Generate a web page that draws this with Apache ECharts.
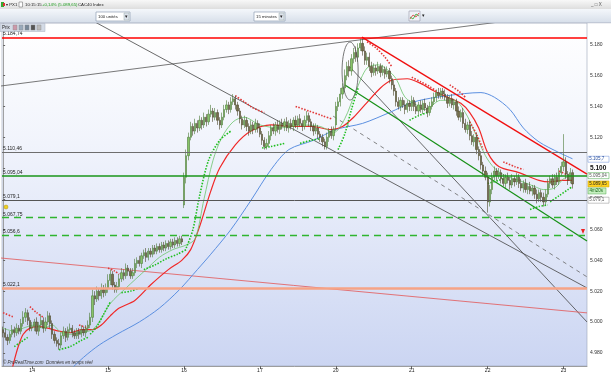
<!DOCTYPE html>
<html><head><meta charset="utf-8">
<script src="https://cdn.jsdelivr.net/npm/echarts@6/dist/echarts.min.js"></script>
<style>html,body{margin:0;padding:0;background:#fff}#c{width:611px;height:375px}</style>
</head><body><div id="c"></div>
<script>
// ---------- DATA ----------
const days = ['13','14','15','16','17','20','21','22','23'];
const barsPerDay = [13,34,34,34,34,34,34,34,5];
const totalSlots = 262;
const firstOpen = 4995;
const gapOpens = {81: 5076, 149: 5128};

const closeD13 = [4993,4990,4988,4992,4995,4993,4996,4994,4999,5003,5006,5001,4996];
const closeD14 = [4997,5000,4994,4998,5001,4996,5000,5004,4999,4992,4988,4986,4985,4991,4994,4990,4995,4996,4993,4991,4994,4992,4995,4993,4996,4998,5003,5017,5015,5020,5017,5021,5019,5022];
const closeD15 = [5027,5031,5024,5021,5023,5028,5032,5030,5035,5033,5030,5032,5038,5040,5038,5043,5045,5042,5046,5044,5048,5046,5049,5047,5050,5048,5051,5049,5052,5050,5053,5051,5054,5052];
const closeD16 = [5094,5108,5120,5127,5124,5129,5126,5131,5128,5133,5130,5135,5137,5133,5136,5131,5128,5133,5138,5141,5138,5143,5145,5141,5137,5132,5128,5131,5127,5124,5128,5125,5129,5126];
const closeD17 = [5122,5118,5114,5116,5121,5126,5124,5128,5125,5129,5127,5130,5126,5129,5127,5131,5128,5132,5129,5127,5131,5134,5130,5127,5124,5126,5122,5120,5117,5114,5120,5124,5121,5125];
const closeD20 = [5140,5143,5148,5152,5160,5166,5163,5171,5175,5172,5178,5181,5176,5170,5172,5166,5162,5165,5163,5166,5162,5164,5161,5163,5158,5154,5150,5143,5140,5144,5141,5138,5142,5140];
const closeD21 = [5144,5140,5137,5141,5138,5142,5139,5136,5140,5143,5146,5149,5147,5150,5148,5146,5142,5145,5141,5143,5137,5133,5136,5129,5125,5128,5121,5117,5120,5112,5108,5102,5098,5094];
const closeD22 = [5078,5086,5094,5098,5095,5097,5093,5090,5094,5092,5089,5093,5091,5094,5090,5087,5090,5086,5088,5085,5087,5083,5080,5084,5081,5078,5083,5090,5093,5089,5094,5091,5097,5101];
const closeD23 = [5104,5096,5092,5097,5089.65];

const wickHiD13 = [2,3,2,2,3,2,3,2,3,4,3,2,2];
const wickHiD14 = [3,2,3,2,4,2,3,3,2,2,2,2,3,2,3,2,2,3,2,2,2,2,3,2,2,3,3,4,3,3,2,4,3,3];
const wickHiD15 = [4,3,2,2,3,3,3,2,3,2,2,3,3,2,3,2,2,3,2,2,2,2,2,2,2,2,2,2,2,2,2,2,2,2];
const wickHiD16 = [3,4,3,3,2,3,2,3,2,3,2,3,4,2,3,2,2,3,3,3,2,3,3,2,2,2,2,3,2,2,3,2,3,2];
const wickHiD17 = [3,2,2,3,3,2,3,2,3,2,3,2,3,2,3,2,3,2,3,2,3,3,2,2,2,3,2,2,2,2,3,2,3,2];
const wickHiD20 = [3,3,4,3,4,3,4,3,3,4,3,3,3,3,3,3,3,3,2,3,2,3,2,3,2,2,3,2,3,2,2,3,2,2];
const wickHiD21 = [3,2,3,2,3,2,3,2,3,3,3,2,3,2,2,3,2,2,3,2,2,3,2,3,3,2,3,3,2,3,2,3,2,3];
const wickHiD22 = [3,3,3,3,2,3,2,3,2,3,2,3,2,3,2,3,2,3,2,3,2,2,3,2,2,3,3,3,2,3,2,3,3,3];
const wickHiD23 = [18,3,2,3,2];

const wickLoD13 = [3,2,3,2,2,3,2,2,2,2,3,3,2];
const wickLoD14 = [2,3,2,3,2,3,2,2,3,3,2,2,3,2,2,3,2,2,3,2,2,3,2,2,3,2,2,3,4,2,3,2,3,2];
const wickLoD15 = [3,3,3,2,2,2,2,3,2,3,2,2,2,3,2,3,2,3,2,2,2,2,2,2,2,2,2,2,2,2,2,2,2,2];
const wickLoD16 = [2,4,3,2,3,2,3,2,3,2,3,2,2,3,2,3,3,2,2,2,3,2,2,3,3,3,3,2,3,3,2,3,2,3];
const wickLoD17 = [2,3,2,2,2,3,2,3,2,3,2,3,2,3,2,3,2,3,2,3,2,2,3,3,3,2,3,3,3,2,2,3,2,3];
const wickLoD20 = [4,3,3,3,3,3,4,3,3,3,3,2,3,3,3,3,3,2,3,2,3,2,3,2,3,3,3,3,2,3,2,3,2,3];
const wickLoD21 = [3,3,2,3,2,3,2,3,2,2,2,3,2,2,3,2,3,2,2,3,3,2,3,3,2,3,3,2,3,3,3,3,3,2];
const wickLoD22 = [7,3,3,2,3,2,3,2,3,2,3,2,3,2,3,2,3,2,3,2,3,3,3,2,3,3,2,2,3,2,3,2,2,2];
const wickLoD23 = [3,3,3,2,3];

// indicator curves: [bar index, price]
const maRed = [[3,4963],[5,4975],[7,4985],[9,4992],[12,4996],[16,4997],[20,4996],[25,4994],[30,4993],[35,4995],[40,4995],[44,4998],[48,5004],[52,5009],[59,5014],[66,5024],[74,5034],[80,5040],[84,5047],[88,5062],[93,5085],[97,5100],[104,5115],[111,5124],[120,5128],[129,5127],[138,5127],[147,5125],[152,5127],[157,5133],[162,5141],[169,5152],[174,5157],[181,5158],[187,5155],[193,5150],[199,5146],[205,5142],[209,5136],[213,5126],[217,5110],[222,5101],[231,5097],[240,5092],[245,5091],[250,5092],[255,5092]];
const maBlue = [[28,4966],[36,4977],[43,4985],[51,4992],[61,5000],[70,5009],[79,5021],[87,5034],[93,5044],[102,5060],[111,5079],[120,5099],[128,5112],[139,5118],[149,5125],[161,5129],[173,5136],[184,5143],[199,5147],[214,5149],[220,5146],[227,5138],[233,5126],[240,5117],[249,5110],[255,5106]];
const maGreen = [[0,4996],[5,4994],[9,4996],[14,4998],[18,4996],[22,4998],[26,4993],[30,4992],[35,4993],[40,4995],[43,5000],[48,5012],[55,5022],[64,5034],[70,5042],[76,5047],[82,5050],[86,5054],[90,5080],[94,5105],[98,5120],[103,5130],[108,5133],[115,5128],[124,5126],[133,5128],[142,5127],[148,5123],[153,5132],[158,5150],[163,5165],[168,5167],[172,5164],[176,5158],[180,5146],[185,5141],[189,5138],[196,5144],[202,5144],[207,5136],[211,5124],[216,5108],[220,5100],[225,5095],[231,5092],[238,5088],[242,5086],[247,5087],[251,5093],[255,5095]];
const sarRed = [
  [[0,5006],[5,5003]],
  [[12,5010],[15,5006],[18,5003]],
  [[34,4998],[38,4996]],
  [[47,5035],[50,5033],[52,5031]],
  [[104,5147],[108,5143],[112,5139],[117,5136]],
  [[131,5140],[137,5137],[143,5134],[147,5132]],
  [[163,5182],[167,5178],[171,5172],[174,5166]],
  [[183,5159],[187,5156],[191,5153],[194,5150]],
  [[200,5154],[204,5150],[207,5146]],
  [[209,5130],[212,5122],[215,5112]],
  [[224,5104],[229,5101],[233,5099]],
  [[249,5098],[252,5096]]
];
const sarGreen = [
  [[5,4984],[8,4987],[11,4990]],
  [[25,4982],[30,4984],[35,4988],[38,4990]],
  [[39,4992],[42,4997],[45,5005],[48,5013]],
  [[53,5019],[57,5020],[61,5022]],
  [[63,5034],[68,5037],[73,5041],[78,5044],[82,5047]],
  [[82,5048],[85,5060],[88,5082],[92,5105],[97,5118],[102,5124]],
  [[116,5113],[120,5114],[126,5116]],
  [[133,5116],[138,5118],[142,5119]],
  [[150,5112],[153,5122],[156,5138],[159,5152]],
  [[182,5131],[186,5134],[190,5136]],
  [[217,5090],[222,5092],[226,5094]],
  [[236,5073],[240,5075],[244,5076]],
  [[245,5078],[249,5082],[253,5086],[255,5088]]
];
// drawn trend lines: [bar index, price]
const trendBlackDown1 = [[41.2,5194.8],[261.5,5022.1]];
const trendBlackDown2 = [[155.4,5165.5],[261.5,5000]];
const trendGrayDashed = [[147.8,5133.7],[261.5,5029.3]];
const trendGreen = [[153.1,5153.9],[261.5,5052.6]];
const trendRed = [[160.7,5185],[261.5,5096]];
const trendRedLong = [[-1.4,5041.6],[261.5,5005.9]];
const trendBlackUp = [[-1.4,5153.2],[261.5,5202.2]];
const ellipse = [155.4,5163,3.6,18.8];
// horizontal levels
const levelValues = [5184.74,5110.46,5095.04,5079.1,5067.75,5056.6,5022.1];
const levelLabels = ['5.184,74','5.110,46','5.095,04','5.079,1','5.067,75','5.056,6','5.022,1'];
const yTicks = [4980,5000,5020,5040,5060,5080,5100,5120,5140,5160,5180];
const boxValues = [5105.7,5095.04,5089.65,5079.1];
const boxLabels = ['5.105,7','5.095,04','5.089,65','5.079,1'];
const timerLabel = '4m20s';

// ---------- BUILD ----------
const closes = [].concat(closeD13,closeD14,closeD15,closeD16,closeD17,closeD20,closeD21,closeD22,closeD23);
const wickHi = [].concat(wickHiD13,wickHiD14,wickHiD15,wickHiD16,wickHiD17,wickHiD20,wickHiD21,wickHiD22,wickHiD23);
const wickLo = [].concat(wickLoD13,wickLoD14,wickLoD15,wickLoD16,wickLoD17,wickLoD20,wickLoD21,wickLoD22,wickLoD23);
const opens = closes.map((c,i)=> i===0 ? firstOpen : (gapOpens[i]!==undefined ? gapOpens[i] : closes[i-1]));
const candles = closes.map((c,i)=>{const o=opens[i];return [o,c,Math.min(o,c)-wickLo[i],Math.max(o,c)+wickHi[i]];});

const cats=[]; const dayStart=new Set();
days.forEach((d,k)=>{const n=barsPerDay[k];const s=k===0?14*60+15:9*60;
  for(let j=0;j<n;j++){ if(j===0&&k>0) dayStart.add(cats.length);
    const m=s+15*j; cats.push(d+' '+String(Math.floor(m/60)).padStart(2,'0')+':'+String(m%60).padStart(2,'0'));}});
while(cats.length<totalSlots) cats.push('');

const FONT='Liberation Sans';
const chart = echarts.init(document.getElementById('c'),null,{renderer:'canvas'});

function lineSeries(data,color,width,type,smooth){
  return {type:'line',xAxisIndex:1,yAxisIndex:0,data:data,showSymbol:false,symbol:'none',smooth:smooth||0,
    lineStyle:{color:color,width:width,type:type||'solid'},silent:true,z:3};
}
const levelStyles=[{color:'#ff0000',width:1.5,type:'solid'},{color:'#6e6e6e',width:1,type:'solid'},{color:'#1a961a',width:1.5,type:'solid'},{color:'#555555',width:1,type:'solid'},{color:'#2fb52f',width:1.3,type:[7,5]},{color:'#2fb52f',width:1.3,type:[7,5]},{color:'#f6a386',width:2.5,type:'solid'}];
const series=[];
series.push({type:'candlestick',xAxisIndex:0,yAxisIndex:0,data:candles,barWidth:'78%',z:4,
  itemStyle:{color:'#88c468',color0:'#76704a',borderColor:'#4c7a38',borderColor0:'#4a4428',borderWidth:0.6},
  markLine:{silent:true,symbol:['none','none'],animation:false,
    label:{position:'insideStartTop',fontSize:5,color:'#222',fontFamily:FONT,distance:[1,1]},
    data:levelValues.map((v,k)=>({yAxis:v,label:{formatter:levelLabels[k]},lineStyle:levelStyles[k]}))}});
series.push(lineSeries(trendBlackUp,'#555',0.8));
series.push(lineSeries(trendBlackDown1,'#444',0.8));
series.push(lineSeries(trendBlackDown2,'#444',0.8));
series.push(lineSeries(trendGrayDashed,'#666',0.8,[4,4]));
series.push(lineSeries(trendRedLong,'#e35656',0.8));
series.push(lineSeries(maBlue,'#5b8fe0',1,'solid',0.3));
series.push(lineSeries(maRed,'#f02828',1.2,'solid',0.3));
series.push(lineSeries(maGreen,'#6cc46c',0.8,'solid',0.3));
series.push(lineSeries(trendGreen,'#169016',1.2));
series.push(lineSeries(trendRed,'#f01010',1.3));
sarRed.forEach(seg=>series.push(lineSeries(seg,'#e23a3a',1.6,[1.5,1.5],0.3)));
sarGreen.forEach(seg=>series.push(lineSeries(seg,'#1fbf1f',1.6,[1.5,1.5],0.3)));
series.push({type:'custom',xAxisIndex:1,yAxisIndex:0,data:[ellipse],silent:true,z:5,
  renderItem:(params,api)=>{const c=api.coord([api.value(0),api.value(1)]);const s=api.size([api.value(2),api.value(3)]);
    const pts=[];for(let k=0;k<=60;k++){const a=k/60*Math.PI*2;pts.push([c[0]+s[0]*Math.cos(a),c[1]+s[1]*Math.sin(a)]);}
    return {type:'polyline',shape:{points:pts},style:{fill:null,stroke:'#555',lineWidth:0.8}};}});

const gx=2, gTop=23, gRight=24, gBottom=9;
chart.setOption({
  animation:false,
  backgroundColor:'#ffffff',
  textStyle:{fontFamily:FONT},
  grid:{left:gx,right:gRight,top:gTop,bottom:gBottom,show:true,borderColor:'#9aa6b8',borderWidth:0.6,
    backgroundColor:new echarts.graphic.LinearGradient(0,0,0,1,[{offset:0,color:'#ffffff'},{offset:0.35,color:'#f1f4fc'},{offset:1,color:'#cbd5f2'}])},
  xAxis:[
    {type:'category',data:cats,boundaryGap:true,axisLine:{lineStyle:{color:'#8a8a8a',width:0.8}},
      axisTick:{show:true,interval:(i)=>dayStart.has(i),alignWithLabel:true,length:3,lineStyle:{color:'#666'}},
      axisLabel:{interval:(i)=>dayStart.has(i),formatter:(v)=>v.split(' ')[0],fontSize:5,color:'#222',margin:2},
      splitLine:{show:false}},
    {type:'value',min:-0.5,max:totalSlots-0.5,show:false}
  ],
  yAxis:{type:'value',position:'right',min:4971.4,max:5194.2,scale:true,
    axisLine:{show:true,lineStyle:{color:'#8a8a8a',width:0.8}},
    axisTick:{show:true,customValues:yTicks,length:2,lineStyle:{color:'#666'}},
    axisLabel:{customValues:yTicks,fontSize:5,color:'#333',margin:3,
      formatter:(v)=>{const r=Math.round(v);const s=String(r);const t=s[0]+'.'+s.slice(1);return r===5100?'{b|'+t+'}':t;},
      rich:{b:{fontWeight:'bold',fontSize:6.5,color:'#111'}}},
    splitLine:{show:false}},
  series:series
});

// ---------- chrome & side boxes ----------
const yPix=v=>chart.convertToPixel({yAxisIndex:0},v);
const g=[];
const T=(x,y,t,o,z)=>({type:'text',x:x,y:y,z:z||100,style:Object.assign({text:t,fontSize:4.5,fill:'#222',fontFamily:FONT,verticalAlign:'middle'},o||{})});
// title bar
g.push({type:'rect',shape:{x:0,y:0,width:611,height:9},z:99,style:{fill:new echarts.graphic.LinearGradient(0,0,0,1,[{offset:0,color:'#f8f8f8'},{offset:1,color:'#dedede'}])}});
g.push({type:'rect',shape:{x:1,y:2,width:3,height:5},z:100,style:{fill:'#3a3'}});
g.push({type:'rect',shape:{x:3,y:3,width:2,height:3},z:100,style:{fill:'#d33'}});
g.push(T(6,4.7,'▾ PX1',{fontSize:4.3}));
g.push({type:'rect',shape:{x:19,y:2,width:3.5,height:5},z:100,style:{fill:'#fff',stroke:'#777',lineWidth:0.6}});
g.push(T(25,4.7,'10:15:15',{fontSize:4.3}));
g.push(T(42,4.7,'+0,14% (5.089,65)',{fill:'#1a9a1a',fontSize:4.3}));
g.push(T(78,4.7,'CAC40 Index',{fontSize:4.3}));
g.push(T(591,4.7,'_ □ X',{fill:'#555'}));
// toolbar
g.push({type:'rect',shape:{x:0,y:9,width:611,height:14},z:99,style:{fill:new echarts.graphic.LinearGradient(0,0,0,1,[{offset:0,color:'#f4f7fb'},{offset:1,color:'#d6dee9'}])}});
[[96,34,'100 unités'],[254,31,'15 minutes']].forEach(d=>{
  g.push({type:'rect',shape:{x:d[0],y:12,width:d[1],height:9},z:100,style:{fill:'#fff',stroke:'#8090a8',lineWidth:0.6}});
  g.push(T(d[0]+2,16.6,d[2],{fontSize:4.3}));
  g.push({type:'rect',shape:{x:d[0]+d[1]-6,y:13,width:5,height:7},z:101,style:{fill:'#dde3ec',stroke:'#9aa',lineWidth:0.5}});
  g.push(T(d[0]+d[1]-5.3,16.6,'▾',{fontSize:4.5},102));
});
g.push({type:'rect',shape:{x:409,y:11,width:11,height:10},z:100,style:{fill:'#f0f2f8',stroke:'#99a',lineWidth:0.6}});
g.push({type:'polyline',shape:{points:[[410,19],[413,15],[416,17],[419,13]]},z:101,style:{stroke:'#d33',lineWidth:0.8,fill:null}});
g.push({type:'polyline',shape:{points:[[410,17],[413,19],[416,14],[419,16]]},z:101,style:{stroke:'#3a3',lineWidth:0.8,fill:null}});
g.push(T(421.5,16.2,'▾',{fontSize:4.5}));
g.push({type:'line',shape:{x1:0,y1:22.8,x2:611,y2:22.8},z:100,style:{stroke:'#a4adbd',lineWidth:0.6}});
// Prix bar
g.push({type:'rect',shape:{x:0,y:23.5,width:45,height:8},z:100,style:{fill:'#d4dbe6',stroke:'#a8b0c0',lineWidth:0.5}});
g.push(T(2,27.6,'Prix',{fontSize:4.5},101));
[13,19,25,31,37].forEach((x,k)=>g.push({type:'rect',shape:{x:x,y:25,width:4,height:5},z:101,style:{fill:['#c9a','#9ab','#789','#555','#bbb'][k],stroke:'#888',lineWidth:0.4}}));
// watermark
g.push(T(3,363,'© ProRealTime.com  Données en temps réel',{fontSize:4.5,fontStyle:'italic',fill:'#333'}));
// bell and arrow icons
g.push({type:'circle',shape:{cx:6,cy:207,r:2},z:100,style:{fill:'#f0d020',stroke:'#a08000',lineWidth:0.4}});
g.push({type:'polygon',shape:{points:[[581,229],[585,229],[583,234]]},z:100,style:{fill:'#e22'}});
// side boxes
const boxStyles=[{stroke:'#6b8fd8',fill:'#fff',text:'#2a50a0'},{stroke:'#3aa03a',fill:'#fff',text:'#555'},{stroke:'#c8a000',fill:'#ffd21f',text:'#222'},{stroke:'#888',fill:'#fff',text:'#555'}];
boxValues.forEach((v,k)=>{const y=yPix(v);const st=boxStyles[k];
  g.push({type:'rect',shape:{x:588,y:y-3,width:21,height:6},z:102,style:{fill:st.fill,stroke:st.stroke,lineWidth:0.5}});
  g.push(T(589.3,y,boxLabels[k],{fill:st.text,fontSize:4.5},104));
});
{const y=yPix(boxValues[2])+7;
  g.push({type:'rect',shape:{x:588,y:y-3,width:18,height:6},z:102,style:{fill:'#c6efc0',stroke:'#5a5',lineWidth:0.5}});
  g.push(T(589.5,y,timerLabel,{fill:'#1a6a1a',fontSize:4.5},104));}
chart.setOption({graphic:g});
</script></body></html>
